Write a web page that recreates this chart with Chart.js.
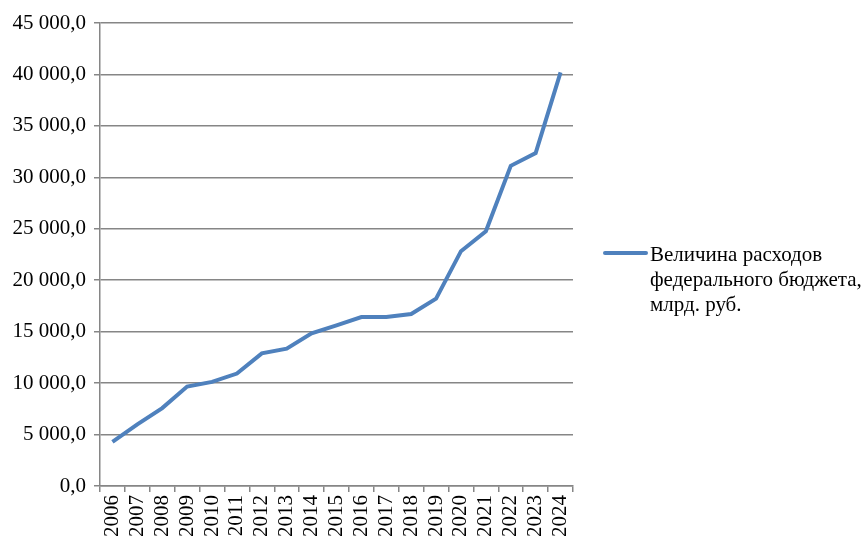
<!DOCTYPE html>
<html><head><meta charset="utf-8">
<script src="https://cdn.jsdelivr.net/npm/chart.js@4"></script>
<style>html,body{margin:0;padding:0;background:#fff}#wrap{width:863px;height:538px}</style>
</head><body><div id="wrap"><canvas id="c" width="863" height="538"></canvas></div>
<script>
const years = ["2006","2007","2008","2009","2010","2011","2012","2013","2014","2015","2016","2017","2018","2019","2020","2021","2022","2023","2024"];
const spending = [4284.8,5986.6,7570.9,9660.1,10117.5,10925.6,12895.0,13342.9,14831.6,15620.3,16416.4,16420.3,16713.0,18214.5,22821.6,24762.1,31118.9,32355.0,40200.0];
const seriesName = ["Величина расходов","федерального бюджета,","млрд. руб."];
const yTicks = [0,5000,10000,15000,20000,25000,30000,35000,40000,45000];

const FONT = "'Liberation Serif','Times New Roman',serif";
const fmt = v => {
  const s = Math.round(v).toString().replace(/\B(?=(\d{3})+(?!\d))/g, "\u00a0");
  return s + ",0";
};

const legendPlugin = {
  id: 'sideLegend',
  afterDraw(chart) {
    const ctx = chart.ctx;
    ctx.save();
    ctx.strokeStyle = '#4F81BD';
    ctx.lineWidth = 4;
    ctx.lineCap = 'round';
    ctx.beginPath();
    ctx.moveTo(605, 253);
    ctx.lineTo(646, 253);
    ctx.stroke();
    ctx.fillStyle = '#000';
    ctx.font = '21px ' + FONT;
    ctx.textBaseline = 'middle';
    ctx.textAlign = 'left';
    seriesName.forEach((t, i) => ctx.fillText(t, 650, 255 + i * 25));
    ctx.restore();
  }
};

new Chart(document.getElementById('c'), {
  type: 'line',
  data: {
    labels: years,
    datasets: [{
      label: seriesName.join(' '),
      data: spending,
      borderColor: '#4F81BD',
      borderWidth: 4,
      pointRadius: 0,
      tension: 0,
      fill: false
    }]
  },
  options: {
    responsive: false,
    animation: false,
    layout: { padding: { left: 0, right: 290, top: 23, bottom: 0 } },
    plugins: { legend: { display: false }, tooltip: { enabled: false } },
    scales: {
      x: {
        offset: true,
        grid: { display: true, drawOnChartArea: false, drawTicks: true, tickLength: 6, color: '#868686', lineWidth: 1.5, offset: true },
        border: { color: '#868686', width: 1.5 },
        ticks: { color: '#000', font: { family: FONT, size: 21 }, minRotation: 90, maxRotation: 90, padding: 3, autoSkip: false },
        afterFit(s) { s.height = 52; }
      },
      y: {
        min: 0, max: 45000,
        afterBuildTicks(s) { s.ticks = yTicks.map(v => ({ value: v })); },
        grid: { color: '#868686', lineWidth: 1.5, tickLength: 6 },
        border: { color: '#868686', width: 1.5 },
        ticks: { color: '#000', font: { family: FONT, size: 21 }, padding: 8, callback: v => fmt(v) },
        afterFit(s) { s.width = 100; }
      }
    }
  },
  plugins: [legendPlugin]
});
</script>
</body></html>
